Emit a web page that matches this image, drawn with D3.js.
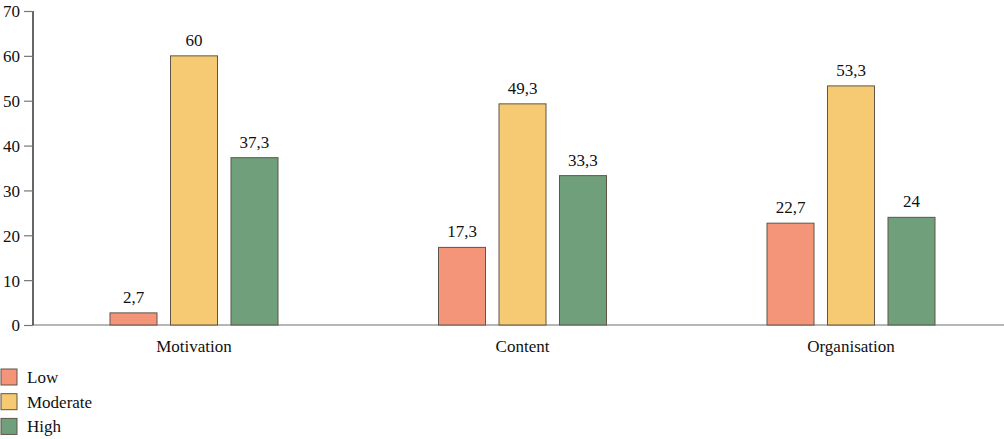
<!DOCTYPE html>
<html><head><meta charset="utf-8">
<script src="https://cdn.jsdelivr.net/npm/d3@7"></script>
<style>
html,body{margin:0;padding:0;background:#fff;}
</style></head>
<body><svg id="c" width="1004" height="439"></svg>
<script>
const categories = ["Motivation", "Content", "Organisation"];
const seriesNames = ["Low", "Moderate", "High"];
const lowValues = [2.7, 17.3, 22.7];
const moderateValues = [60, 49.3, 53.3];
const highValues = [37.3, 33.3, 24];
const valueLabels = [["2,7","60","37,3"],["17,3","49,3","33,3"],["22,7","53,3","24"]];
const yTicks = [0, 10, 20, 30, 40, 50, 60, 70];
const colors = ["#F4957A", "#F5CA73", "#6FA07B"];

const FONT = '"Liberation Serif", "Times New Roman", serif';
const FS = "17px";
const series = [lowValues, moderateValues, highValues];
const svg = d3.select("#c");
const y = d3.scaleLinear().domain([0, 70]).range([325, 11]);
const x0 = d3.scaleBand().domain(categories).range([29.75, 1015.25]).paddingInner(0).paddingOuter(0);
const x1 = d3.scaleBand().domain(seriesNames).range([-84, 84]).paddingInner(0.223).paddingOuter(0);

// x baseline
svg.append("line").attr("x1", 33).attr("x2", 1004).attr("y1", y(0)).attr("y2", y(0))
  .attr("stroke", "#6e6e6e").attr("stroke-width", 1.2);

// y axis
const yAxis = d3.axisLeft(y).tickValues(yTicks).tickSize(9).tickPadding(4);
const ga = svg.append("g").attr("transform", "translate(33,0)").call(yAxis);
ga.select(".domain").attr("stroke", "#000").attr("stroke-width", 1.2).attr("d", `M0,${y(70)}V${y(0)}`);
ga.selectAll(".tick line").attr("stroke", "#777").attr("stroke-width", 1.2);
ga.selectAll(".tick text").style("font-family", FONT).style("font-size", FS)
  .attr("fill", "#111").attr("x", -13).attr("dy", "0.35em");

// bars
categories.forEach((cat, ci) => {
  const cx = x0(cat) + x0.bandwidth() / 2;
  seriesNames.forEach((s, si) => {
    const v = series[si][ci];
    const bx = cx + x1(s);
    svg.append("rect").attr("x", bx).attr("y", y(v)).attr("width", x1.bandwidth())
      .attr("height", y(0) - y(v)).attr("fill", colors[si])
      .attr("stroke", "#5f5548").attr("stroke-width", 1);
    svg.append("text").attr("x", bx + x1.bandwidth() / 2).attr("y", y(v) - 10)
      .attr("text-anchor", "middle").style("font-family", FONT).style("font-size", FS).attr("fill", "#111")
      .text(valueLabels[ci][si]);
  });
  svg.append("text").attr("x", cx).attr("y", 352).attr("text-anchor", "middle")
    .style("font-family", FONT).style("font-size", FS).attr("fill", "#111").text(cat);
});

// legend
seriesNames.forEach((s, i) => {
  const ly = 369 + i * 24.7;
  svg.append("rect").attr("x", 1).attr("y", ly).attr("width", 16).attr("height", 16)
    .attr("fill", colors[i]).attr("stroke", "#5f5548").attr("stroke-width", 1);
  svg.append("text").attr("x", 27).attr("y", ly + 14)
    .style("font-family", FONT).style("font-size", FS).attr("fill", "#111").text(s);
});
</script></body></html>
